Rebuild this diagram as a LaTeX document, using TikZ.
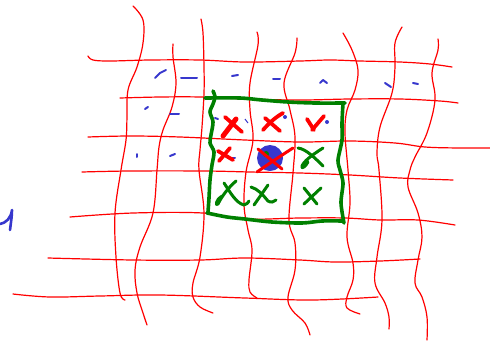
\documentclass[tikz,border=0pt]{standalone}
\definecolor{penred}{RGB}{255,0,0}
\definecolor{pengreen}{RGB}{0,128,0}
\definecolor{penblue}{RGB}{55,55,205}
\tikzset{
  gridline/.style={penred, line width=1.2pt, line cap=round, line join=round},
  boxline/.style={pengreen, line width=3.6pt, line cap=round, line join=round},
  redmark/.style={penred, line width=3.8pt, line cap=round, line join=round},
  greenmark/.style={pengreen, line width=3pt, line cap=round, line join=round},
  bluemark/.style={penblue, line width=2pt, line cap=round, line join=round},
}
\begin{document}
\begin{tikzpicture}[x=1pt,y=-1pt]
\useasboundingbox (0,0) rectangle (490,341);
% horizontal grid lines
\draw[gridline] plot[smooth,tension=0.6] coordinates {(88,56) (93,60) (110,61) (150,60) (200,60) (245,62) (300,61) (330,60) (360,61) (400,62) (430,64) (452,67)};
\draw[gridline] plot[smooth,tension=0.6] coordinates {(120,98) (160,97) (200,97) (245,99) (300,100) (350,99) (400,99) (440,101) (458,103)};
\draw[gridline] plot[smooth,tension=0.6] coordinates {(88,137) (130,136) (180,137) (245,140) (300,142) (350,141) (395,143) (425,147) (460,148) (490,148)};
\draw[gridline] plot[smooth,tension=0.6] coordinates {(82,172) (130,171) (205,171) (250,172) (300,173) (350,175) (400,178) (453,180)};
\draw[gridline] plot[smooth,tension=0.6] coordinates {(70,217) (133,213) (203,213) (245,219) (300,218) (345,218) (380,220) (418,220) (455,225)};
\draw[gridline] plot[smooth,tension=0.6] coordinates {(48,258) (133,260) (200,260) (245,258) (300,260) (335,262) (380,261) (420,259)};
\draw[gridline] plot[smooth,tension=0.6] coordinates {(13,294) (50,297) (100,296) (160,295) (245,298) (312,300) (378,297)};
% vertical grid lines
\draw[gridline] plot[smooth,tension=0.6] coordinates {(133,6) (143,20) (143,43) (137,67) (128,90) (127,117) (126,140) (121,170) (115,213) (116,257) (120,293) (125,300)};
\draw[gridline] plot[smooth,tension=0.6] coordinates {(173,44) (173,57) (176,83) (172,107) (163,130) (159,147) (157,170) (153,213) (140,247) (135,270) (137,293) (143,313) (147,325)};
\draw[gridline] plot[smooth,tension=0.6] coordinates {(201,19) (203,33) (204,67) (204,93) (202,127) (200,150) (199,170) (204,213) (200,257) (193,283) (193,297) (200,307) (213,313)};
\draw[gridline] plot[smooth,tension=0.6] coordinates {(257,32) (258,45) (250,83) (250,110) (253,140) (246,172) (244,205) (248,230) (252,250) (249,280) (250,292) (257,298)};
\draw[gridline] plot[smooth,tension=0.6] coordinates {(297,38) (295,53) (284,83) (290,110) (295,137) (293,173) (289,220) (295,243) (295,270) (288,297) (292,310) (305,323) (310,335)};
\draw[gridline] plot[smooth,tension=0.6] coordinates {(343,33) (352,50) (358,70) (355,90) (347,110) (345,133) (348,170) (350,203) (347,237) (353,263) (353,280) (347,297) (347,308) (360,314)};
\draw[gridline] plot[smooth,tension=0.6] coordinates {(402,27) (395,43) (395,67) (392,93) (380,127) (377,153) (379,170) (382,220) (377,257) (375,283) (385,303) (389,317) (389,329)};
\draw[gridline] plot[smooth,tension=0.6] coordinates {(438,39) (438,50) (432,73) (435,100) (427,133) (415,157) (410,170) (408,187) (418,213) (422,237) (418,260) (415,283) (422,297) (427,317) (427,340)};
% green box
\draw[boxline] plot[smooth,tension=0.5] coordinates {(213,91) (215,97) (213,104) (210,112) (213,122) (211,135) (210,143) (214,152) (212,165) (210,180) (209,198) (208,212)};
\draw[boxline] plot[smooth,tension=0.5] coordinates {(205,98) (240,98) (262,100) (288,102) (315,103) (345,103)};
\draw[boxline] plot[smooth,tension=0.5] coordinates {(343,103) (342,123) (342,140) (338,160) (340,170) (343,183) (341,203) (344,223)};
\draw[boxline] plot[smooth,tension=0.5] coordinates {(207,213) (227,217) (245,219) (272,222) (302,223) (322,221) (342,221)};
% blue dashes
\draw[bluemark] (155,78) -- (160,73) -- (166,70);
\draw[bluemark] (181,78) -- (197,78);
\draw[bluemark] (232,76) -- (238,75);
\draw[bluemark] (273,79) -- (280,79);
\draw[bluemark] (320,83) -- (323,80) -- (327,83);
\draw[bluemark] (385,83) -- (391,87);
\draw[bluemark] (413,83) -- (418,84);
\draw[bluemark] (145,109) -- (148,107);
\draw[bluemark] (170,114) -- (179,114);
\draw[bluemark] (215,118) -- (218,119);
\draw[penblue, line width=1pt] (245,119) -- (248,123);
\fill[penblue] (285,117) circle (2pt);
\fill[penblue] (327,122) circle (2pt);
\draw[bluemark] (137,154) -- (137,157);
\draw[bluemark] (170,156) -- (175,154);
\draw[bluemark] (230,158) -- (235,158);
% blue "1"
\draw[penblue, line width=2.6pt, line cap=round, line join=round] (0,224) .. controls (6,223) and (11,218) .. (12,210) .. controls (12,216) and (11,222) .. (10,230);
% row 1 red marks
\draw[redmark, line width=5pt] (223,136) -- (236,119);
\draw[redmark] (225,117) -- (242,132);
\draw[redmark] (263,130) .. controls (270,122) and (276,117) .. (283,113);
\draw[redmark] (265,118) -- (280,131);
\draw[redmark] (307,119) -- (314,130);
\draw[redmark] (312,130) -- (324,116);
% row 2
\draw[redmark] (219,161) -- (230,148);
\draw[redmark] (218,151) -- (233,160);
\fill[penblue] (270,158) ellipse (13pt and 13pt);
\fill[pengreen] (266,154) circle (3pt);
\draw[redmark, line width=3pt] (257,172) .. controls (270,163) and (282,155) .. (293,148);
\draw[redmark, line width=3pt] (258,149) -- (282,169);
\draw[greenmark] (298,148) .. controls (306,149) and (315,158) .. (323,166);
\draw[greenmark] (323,148) .. controls (312,155) and (304,161) .. (302,166) .. controls (301,170) and (306,166) .. (308,162);
% row 3
\draw[greenmark] (236,181) .. controls (228,188) and (222,196) .. (218,204) .. controls (215,207) and (216,199) .. (222,196);
\draw[greenmark] (224,183) .. controls (230,192) and (236,203) .. (244,205) .. controls (247,204) and (248,203) .. (249,201);
\draw[greenmark] (251,187) .. controls (258,189) and (263,195) .. (268,201) .. controls (271,203) and (274,202) .. (276,200);
\draw[greenmark] (268,185) -- (254,205);
\draw[greenmark] (304,188) -- (317,204);
\draw[greenmark] (321,188) -- (304,204);
\end{tikzpicture}
\end{document}
